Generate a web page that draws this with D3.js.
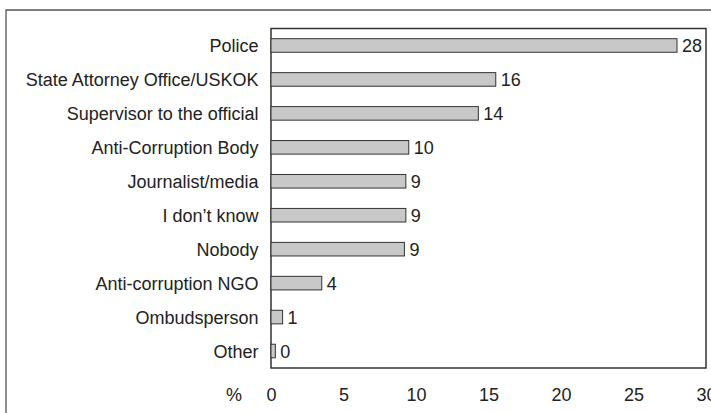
<!DOCTYPE html>
<html>
<head>
<meta charset="utf-8">
<script src="https://cdn.jsdelivr.net/npm/d3@7"></script>
<style>
  body { margin: 0; background: #fff; }
  svg { display: block; }
  text { font-family: "Liberation Sans", Arial, sans-serif; fill: #222; }
</style>
</head>
<body>
<svg id="chart" width="711" height="413"></svg>
<script>
// data
const categories = ['Police', 'State Attorney Office/USKOK', 'Supervisor to the official',
    'Anti-Corruption Body', 'Journalist/media', 'I don\u2019t know', 'Nobody',
    'Anti-corruption NGO', 'Ombudsperson', 'Other'];
const values = [28.0, 15.5, 14.3, 9.5, 9.3, 9.3, 9.2, 3.5, 0.8, 0.3];
const value_labels = ['28', '16', '14', '10', '9', '9', '9', '4', '1', '0'];
const x_ticks = [0, 5, 10, 15, 20, 25, 30];

const svg = d3.select('#chart');
const plot = { left: 271, top: 28.5, right: 706, bottom: 368 };
const fontSize = 18;

// outer frame (runs off the right edge)
svg.append('path')
    .attr('d', `M6,413 L6,10 L720,10`)
    .attr('fill', 'none')
    .attr('stroke', '#555')
    .attr('stroke-width', 1.3);

const xScale = d3.scaleLinear().domain([0, 30]).range([plot.left, plot.right]);
const yScale = d3.scaleBand().domain(categories).range([plot.top, plot.bottom]).paddingInner(0.6).paddingOuter(0.3);

// plot frame
svg.append('rect')
    .attr('x', plot.left)
    .attr('y', plot.top)
    .attr('width', plot.right - plot.left)
    .attr('height', plot.bottom - plot.top)
    .attr('fill', 'none')
    .attr('stroke', '#333')
    .attr('stroke-width', 1.5);

// bars
svg.append('g')
    .selectAll('rect')
    .data(values)
    .enter()
    .append('rect')
    .attr('x', xScale(0))
    .attr('y', (d, i) => yScale(categories[i]))
    .attr('width', d => xScale(d) - xScale(0))
    .attr('height', yScale.bandwidth())
    .attr('fill', '#c8c8c8')
    .attr('stroke', '#333')
    .attr('stroke-width', 1);

// value labels
svg.append('g')
    .selectAll('text')
    .data(values)
    .enter()
    .append('text')
    .attr('x', d => xScale(d) + 5)
    .attr('y', (d, i) => yScale(categories[i]) + yScale.bandwidth() / 2)
    .attr('dy', '0.36em')
    .style('font-size', fontSize + 'px')
    .text((d, i) => value_labels[i]);

// category axis
const yAxis = svg.append('g')
    .attr('transform', `translate(${plot.left}, 0)`)
    .call(d3.axisLeft(yScale).tickSize(0).tickPadding(12.5));
yAxis.select('.domain').remove();
yAxis.selectAll('.tick text')
    .attr('font-family', null)
    .attr('fill', '#222')
    .attr('dy', '0.36em')
    .style('font-size', fontSize + 'px');

// value axis, labels only
const xAxis = svg.append('g')
    .attr('transform', `translate(0, ${plot.bottom})`)
    .call(d3.axisBottom(xScale).tickValues(x_ticks).tickSize(0).tickPadding(20.5));
xAxis.select('.domain').remove();
xAxis.selectAll('.tick text')
    .attr('font-family', null)
    .attr('fill', '#222')
    .style('font-size', fontSize + 'px');

svg.append('text')
    .attr('x', 242)
    .attr('y', plot.bottom + 20.5)
    .attr('dy', '0.71em')
    .attr('text-anchor', 'end')
    .style('font-size', fontSize + 'px')
    .text('%');
</script>
</body>
</html>
